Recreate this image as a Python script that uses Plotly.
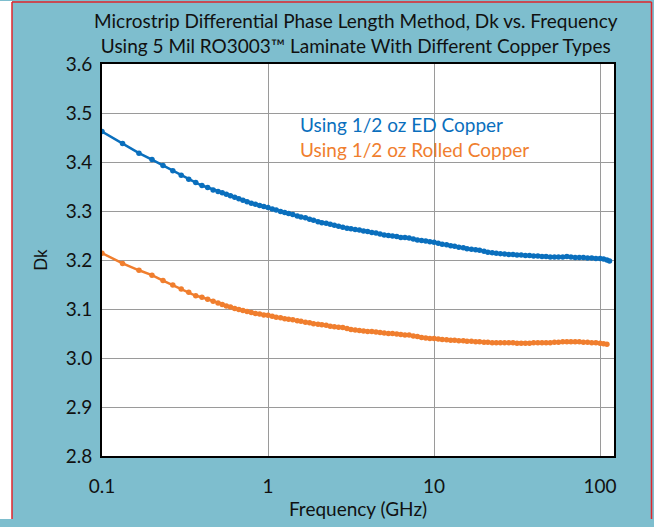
import plotly.graph_objects as go

freq_ghz = [0.1, 0.133, 0.167, 0.2, 0.233, 0.267, 0.3, 0.333, 0.367, 0.4, 0.433, 0.467, 0.5,
            0.53, 0.561, 0.594, 0.63, 0.667, 0.706, 0.748, 0.793, 0.84, 0.89, 0.943, 1.0,
            1.06, 1.12, 1.19, 1.26, 1.33, 1.41, 1.5, 1.58, 1.68, 1.78, 1.88, 2.0, 2.11, 2.24,
            2.37, 2.51, 2.66, 2.82, 2.99, 3.16, 3.35, 3.55, 3.76, 3.98, 4.22, 4.47, 4.73, 5.01,
            5.31, 5.62, 5.96, 6.31, 6.68, 7.08, 7.5, 7.94, 8.41, 8.91, 9.44, 10.0,
            10.6, 11.2, 11.9, 12.6, 13.3, 14.1, 15.0, 15.8, 16.8, 17.8, 18.8, 20.0, 21.1, 22.4,
            23.7, 25.1, 26.6, 28.2, 29.9, 31.6, 33.5, 35.5, 37.6, 39.8, 42.2, 44.7, 47.3, 50.1,
            53.1, 56.2, 59.6, 63.1, 66.8, 70.8, 75.0, 79.4, 84.1, 89.1, 94.4, 100, 105, 110, 114]

dk_ed = [3.462, 3.438, 3.418, 3.405, 3.393, 3.382, 3.373, 3.365, 3.358, 3.352, 3.348, 3.343, 3.340,
         3.337, 3.334, 3.331, 3.328, 3.325, 3.322, 3.319, 3.316, 3.314, 3.311, 3.309, 3.307,
         3.304, 3.302, 3.299, 3.297, 3.295, 3.293, 3.290, 3.288, 3.286, 3.283, 3.281, 3.278, 3.276, 3.275,
         3.273, 3.271, 3.269, 3.267, 3.265, 3.264, 3.262, 3.261, 3.259, 3.258, 3.256, 3.255, 3.253, 3.251,
         3.250, 3.249, 3.248, 3.246, 3.246, 3.245, 3.243, 3.241, 3.240, 3.239, 3.237, 3.236,
         3.234, 3.232, 3.231, 3.229, 3.228, 3.226, 3.225, 3.223, 3.222, 3.221, 3.220, 3.218, 3.216, 3.215,
         3.214, 3.213, 3.212, 3.211, 3.211, 3.210, 3.210, 3.209, 3.209, 3.208, 3.208, 3.207, 3.207, 3.206,
         3.206, 3.206, 3.206, 3.207, 3.206, 3.205, 3.205, 3.205, 3.204, 3.204, 3.203, 3.203, 3.202, 3.200, 3.198]

dk_rolled = [3.214, 3.193, 3.179, 3.169, 3.158, 3.149, 3.141, 3.134, 3.127, 3.124, 3.120, 3.116, 3.112,
             3.109, 3.106, 3.104, 3.101, 3.099, 3.097, 3.095, 3.093, 3.091, 3.090, 3.088, 3.087,
             3.085, 3.083, 3.082, 3.080, 3.079, 3.078, 3.076, 3.075, 3.073, 3.072, 3.070, 3.069, 3.068, 3.067,
             3.065, 3.064, 3.063, 3.062, 3.060, 3.058, 3.057, 3.056, 3.055, 3.054, 3.054, 3.053, 3.052, 3.051,
             3.050, 3.050, 3.049, 3.048, 3.047, 3.047, 3.045, 3.044, 3.042, 3.041, 3.040, 3.040,
             3.039, 3.038, 3.037, 3.036, 3.036, 3.035, 3.035, 3.034, 3.034, 3.033, 3.033, 3.032, 3.032, 3.031,
             3.031, 3.031, 3.031, 3.031, 3.031, 3.030, 3.030, 3.030, 3.030, 3.031, 3.031, 3.031, 3.031, 3.031,
             3.032, 3.032, 3.033, 3.033, 3.033, 3.033, 3.033, 3.032, 3.032, 3.031, 3.031, 3.030, 3.029, 3.028, None]

x_ticks = [0.1, 1, 10, 100]
x_tick_labels = ["0.1", "1", "10", "100"]
y_ticks = [2.8, 2.9, 3.0, 3.1, 3.2, 3.3, 3.4, 3.5, 3.6]
y_tick_labels = ["2.8", "2.9", "3.0", "3.1", "3.2", "3.3", "3.4", "3.5", "3.6"]

series_names = ["Using 1/2 oz ED Copper", "Using 1/2 oz Rolled Copper"]
title_lines = ["Microstrip Differential Phase Length Method, Dk vs. Frequency",
               "Using 5 Mil RO3003\u2122 Laminate With Different Copper Types"]

BLUE = "#0A6FBD"
ORANGE = "#F07E2E"
BG = "#7EBECE"
RED = "#E0242B"
FONT = "Lato"

fig = go.Figure()
for vals, color, name in [(dk_ed, BLUE, series_names[0]), (dk_rolled, ORANGE, series_names[1])]:
    fig.add_trace(go.Scatter(
        x=freq_ghz, y=vals, mode="lines+markers", name=name,
        line=dict(color=color, width=2.5),
        marker=dict(color=color, size=5.5),
        showlegend=False,
    ))

W, H = 654, 527
L, R, T, B = 102, 40, 64, 64
pw, ph = W - L - R, H - T - B

def px_x(p):
    return (p - L) / pw

def px_y(p):
    return (H - B - p) / ph

label_text = (f"<span style='color:{BLUE}'>{series_names[0]}</span><br>"
              f"<span style='color:{ORANGE}'>{series_names[1]}</span>")

border = dict(color=RED, width=1.5)
fig.update_layout(
    width=W, height=H,
    margin=dict(l=L, r=R, t=T, b=B),
    paper_bgcolor=BG,
    plot_bgcolor="white",
    font=dict(family=FONT, color="#111111", size=19),
    xaxis=dict(
        type="log", range=[-1, 2.084],
        tickvals=x_ticks, ticktext=x_tick_labels,
        showgrid=True, gridcolor="#9a9a9a", gridwidth=1.3,
        showline=True, linecolor="black", linewidth=2, mirror=True,
        ticks="", ticklabelstandoff=12,
        title=dict(text="Frequency (GHz)", font=dict(size=19), standoff=5),
        zeroline=False,
    ),
    yaxis=dict(
        range=[2.8, 3.6],
        tickvals=y_ticks, ticktext=y_tick_labels,
        showgrid=True, gridcolor="#9a9a9a", gridwidth=1.3,
        showline=True, linecolor="black", linewidth=2, mirror=True,
        ticks="", ticklabelstandoff=4,
        title=dict(text="Dk", font=dict(size=17), standoff=14),
        zeroline=False,
    ),
    shapes=[
        dict(type="rect", xref="paper", yref="paper",
             x0=px_x(0), x1=px_x(12), y0=px_y(H), y1=px_y(0),
             fillcolor="white", line=dict(width=0), layer="below"),
        dict(type="line", xref="paper", yref="paper",
             x0=px_x(12), x1=px_x(12), y0=px_y(H), y1=px_y(1), line=border),
        dict(type="line", xref="paper", yref="paper",
             x0=px_x(12), x1=px_x(651.5), y0=px_y(1), y1=px_y(1), line=border),
        dict(type="line", xref="paper", yref="paper",
             x0=px_x(651.5), x1=px_x(651.5), y0=px_y(H), y1=px_y(1), line=border),
    ],
    annotations=[
        dict(text=title_lines[0] + "<br>" + title_lines[1], xref="paper", yref="paper",
             x=px_x(356), y=px_y(32), xanchor="center", yanchor="middle",
             showarrow=False, font=dict(size=19, color="#111111"), align="center"),
        dict(text=label_text, xref="paper", yref="paper",
             x=px_x(298), y=px_y(138), xanchor="left", yanchor="middle",
             showarrow=False, font=dict(size=19), align="left"),
    ],
)

fig.write_html(
    "out.html", config={"displayModeBar": False},
    post_script=("document.documentElement.style.margin='0';"
                 "document.documentElement.style.padding='0';"
                 "document.documentElement.style.overflow='hidden';"
                 f"document.documentElement.style.background='{BG}';"
                 "document.body.style.margin='0';document.body.style.padding='0';"
                 "document.body.style.overflow='hidden';"
                 f"document.body.style.background='{BG}';"),
)
